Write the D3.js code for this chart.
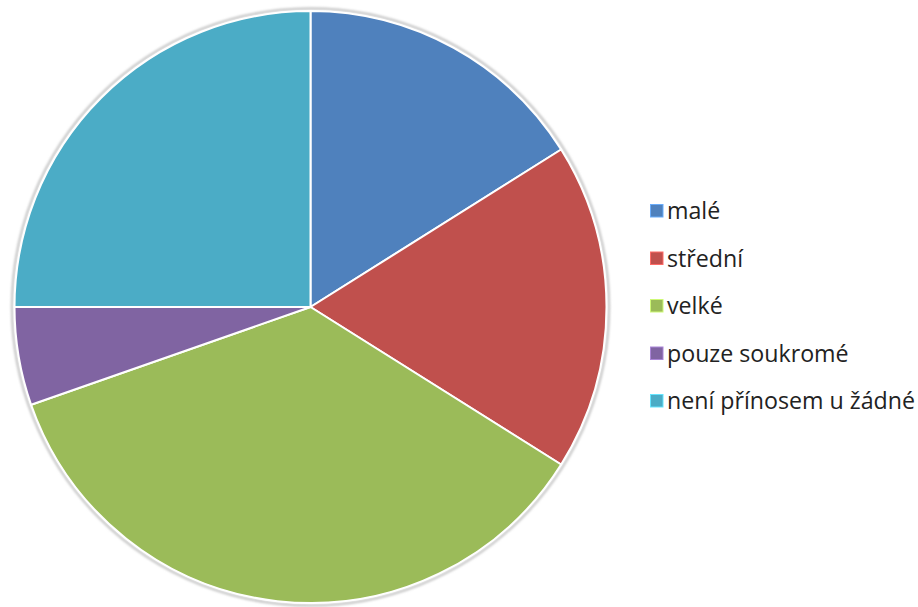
<!DOCTYPE html>
<html>
<head>
<meta charset="utf-8">
<script src="https://cdn.jsdelivr.net/npm/d3@7/dist/d3.min.js"></script>
<style>
  html, body { margin: 0; padding: 0; background: #fff; }
  svg { display: block; }
</style>
</head>
<body>
<svg id="chart" width="918" height="607"></svg>
<script>
// Categories and answer counts
const categories = ["malé", "střední", "velké", "pouze soukromé", "není přínosem u žádné"];
const values = [9, 10, 20, 3, 14];
const colors = ["#4F81BD", "#C0504D", "#9BBB59", "#8064A2", "#4BACC6"];

const data = categories.map((c, i) => ({ name: c, value: values[i] }));

const svg = d3.select("#chart");
const cx = 310.5, cy = 307, r = 296;

const defs = svg.append("defs");
const blur = defs.append("filter").attr("id", "soft")
  .attr("x", "-10%").attr("y", "-10%").attr("width", "120%").attr("height", "120%");
blur.append("feGaussianBlur").attr("stdDeviation", 1.2);

const color = d3.scaleOrdinal().domain(categories).range(colors);

const pie = d3.pie().value(d => d.value).sort(null);
const arc = d3.arc().innerRadius(0).outerRadius(r);

const g = svg.append("g").attr("transform", `translate(${cx},${cy})`);

// soft grey rim around the pie
g.append("circle")
  .attr("r", r + 2.5)
  .attr("fill", "none")
  .attr("stroke", "#c8c8c8")
  .attr("stroke-width", 2.5)
  .attr("filter", "url(#soft)");

g.selectAll("path.slice")
  .data(pie(data))
  .join("path")
  .attr("class", "slice")
  .attr("d", arc)
  .attr("fill", d => color(d.data.name))
  .attr("stroke", "#fff")
  .attr("stroke-width", 2)
  .attr("stroke-linejoin", "round");

// Legend
const legendX = 650, legendY0 = 211, legendStep = 47.5;
const legend = svg.append("g").attr("font-family", "'Open Sans', 'Noto Sans', sans-serif")
  .attr("font-size", 23.2).attr("fill", "#222");

const items = legend.selectAll("g.item")
  .data(categories)
  .join("g")
  .attr("class", "item")
  .attr("transform", (d, i) => `translate(${legendX},${legendY0 + i * legendStep})`);

items.append("rect")
  .attr("x", 0.5).attr("y", -6.5)
  .attr("width", 12.5).attr("height", 12.5)
  .attr("fill", d => color(d))
  .attr("stroke", d => d3.color(color(d)).brighter(0.8))
  .attr("stroke-width", 1);

items.append("text")
  .attr("x", 17)
  .attr("dy", "0.35em")
  .text(d => d);
</script>
</body>
</html>
